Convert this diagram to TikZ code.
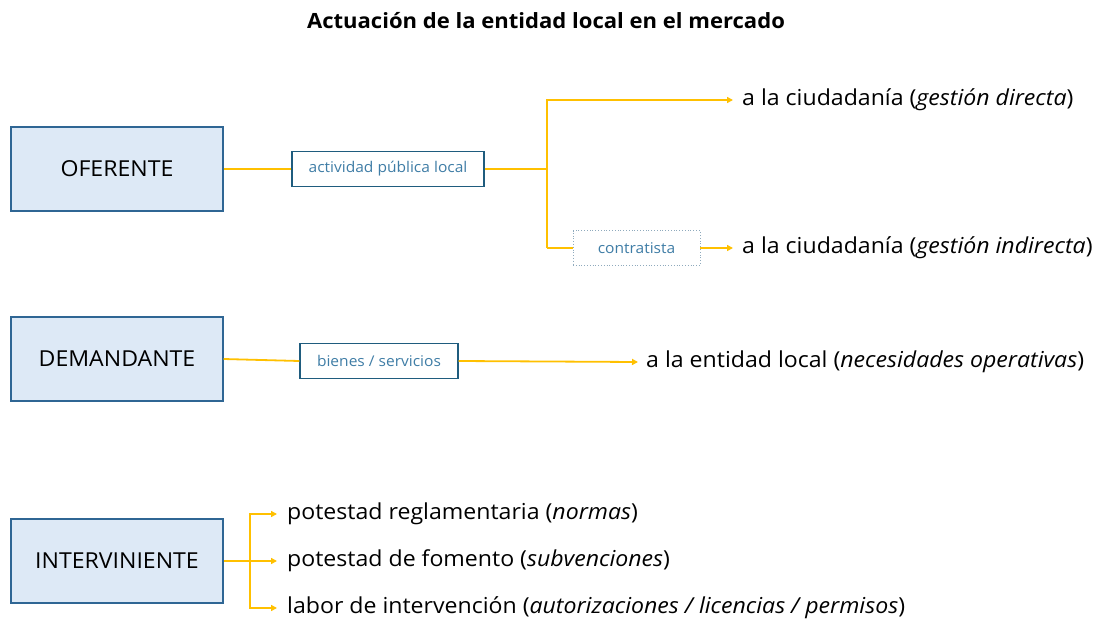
\documentclass[tikz,border=0pt]{standalone}
\usepackage{fontspec}
\setmainfont{Open Sans}[Ligatures=NoCommon, FakeStretch=1.05]
\usetikzlibrary{arrows.meta}
\definecolor{gold}{HTML}{FFC000}
\definecolor{boxfill}{HTML}{DDE9F6}
\definecolor{boxdraw}{HTML}{2F6694}
\definecolor{lbldraw}{HTML}{1F5C7E}
\definecolor{lbltext}{HTML}{3F7DA6}
\definecolor{dotdraw}{HTML}{8FAABD}
\tikzset{
  rolebox/.style={draw=boxdraw, fill=boxfill, line width=1.3pt, minimum width=212pt, minimum height=84pt, inner sep=0pt, font=\fontsize{22}{26}\selectfont},
  lblbox/.style={draw=lbldraw, fill=white, line width=1.2pt, minimum height=35pt, inner sep=0pt, text=lbltext, font=\fontsize{14.8}{17}\selectfont},
  dotbox/.style={draw=dotdraw, dotted, fill=white, line width=0.8pt, minimum height=35pt, inner sep=0pt, text=lbltext, font=\fontsize{14.8}{17}\selectfont},
  conn/.style={draw=gold, line width=1.8pt},
  arr/.style={conn, -{Triangle[length=6pt,width=6pt]}},
  outtxt/.style={anchor=west, inner sep=0pt, font=\fontsize{22}{26}\selectfont},
}
\begin{document}
\begin{tikzpicture}[x=1pt,y=-1pt]
\useasboundingbox (0,0) rectangle (1097,621);
\node[font=\bfseries\fontsize{21}{25}\selectfont] (title) at (546,21) {Actuación de la entidad local en el mercado};
% OFERENTE
\node[rolebox] (of) at (117,169) {OFERENTE};
\node[lblbox, minimum width=192pt] (act) at (388,169) {actividad pública local};
\coordinate (br) at (547,169);
\coordinate (brt) at (547,100);
\coordinate (brb) at (547,248);
\node[dotbox, minimum width=127pt] (con) at (636.5,248) {contratista};
\node[outtxt] (gd) at (742,100) {a la ciudadanía (\textit{gestión directa})};
\node[outtxt] (gi) at (742,248) {a la ciudadanía (\textit{gestión indirecta})};
\draw[conn] (of.east) -- (act.west);
\draw[conn] (act.east) -- (br);
\draw[arr] (brb) -- (brt) -- ([xshift=-9pt]gd.west);
\draw[conn] (brb) -- (con.west);
\draw[arr] (con.east) -- ([xshift=-9pt]gi.west);
% DEMANDANTE
\node[rolebox] (de) at (117,359) {DEMANDANTE};
\node[lblbox, minimum width=158pt] (bs) at (379,361) {bienes / servicios};
\node[outtxt] (el) at (646,362) {a la entidad local (\textit{necesidades operativas})};
\draw[conn] (de.east) -- (bs.west);
\draw[arr] (bs.east) -- ([xshift=-8pt]el.west);
% INTERVINIENTE
\node[rolebox] (in) at (117,561) {INTERVINIENTE};
\coordinate (ib) at (250,561);
\node[outtxt] (pr) at (287,514) {potestad reglamentaria (\textit{normas})};
\node[outtxt] (pf) at (287,561) {potestad de fomento (\textit{subvenciones})};
\node[outtxt] (li) at (287,608) {labor de intervención (\textit{autorizaciones / licencias / permisos})};
\draw[conn] (in.east) -- (ib);
\draw[arr] (ib) |- ([xshift=-10pt]pr.west);
\draw[arr] (ib) -- ([xshift=-10pt]pf.west);
\draw[arr] (ib) |- ([xshift=-10pt]li.west);
\end{tikzpicture}
\end{document}
